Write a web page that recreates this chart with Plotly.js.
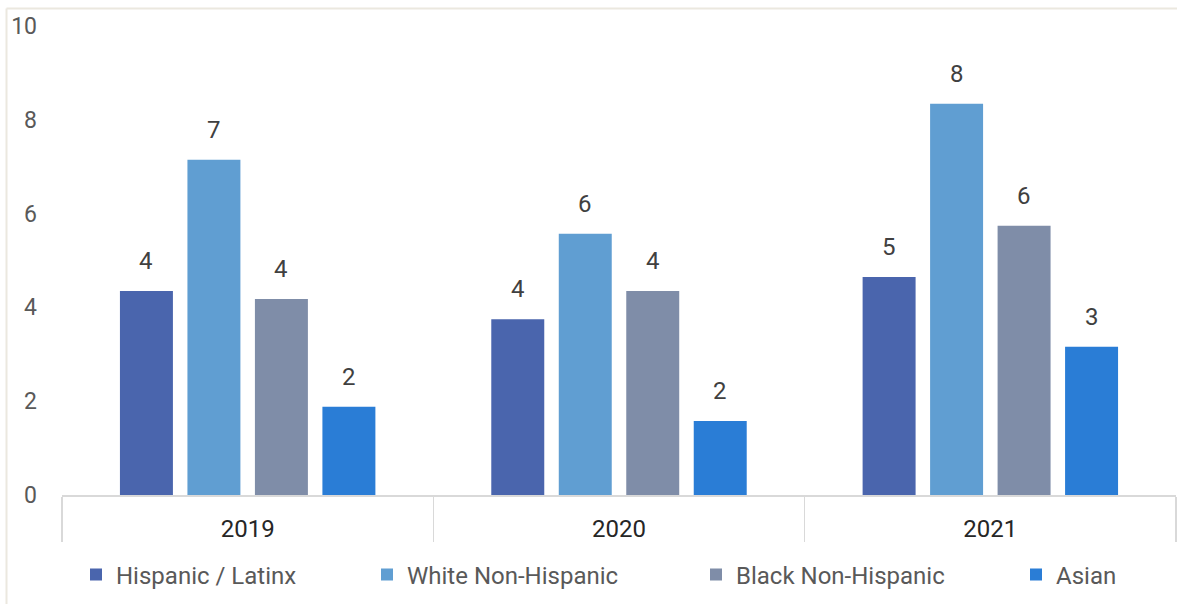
<!DOCTYPE html>
<html>
<head>
<meta charset="utf-8">
<script src="https://cdn.plot.ly/plotly-3.0.1.min.js"></script>
<style>
  html, body { margin: 0; padding: 0; background: #ffffff; }
  #chart { width: 1177px; height: 604px; }
</style>
</head>
<body>
<div id="chart"></div>
<script>
// Years on the category axis
const years = ['2019', '2020', '2021'];

// One series per group
const seriesNames = ['Hispanic / Latinx', 'White Non-Hispanic', 'Black Non-Hispanic', 'Asian'];
const hispanicLatinx = [4.35, 3.75, 4.65];
const whiteNonHispanic = [7.15, 5.57, 8.34];
const blackNonHispanic = [4.18, 4.35, 5.74];
const asian = [1.88, 1.58, 3.16];

const yTicks = [0, 2, 4, 6, 8, 10];

const seriesValues = [hispanicLatinx, whiteNonHispanic, blackNonHispanic, asian];
const seriesColors = ['#4a65ad', '#609ed2', '#7f8da8', '#2a7dd6'];
// Where each legend entry's text begins (container pixels)
const legendTextLeft = [116, 407, 736, 1056];

const W = 1177, H = 604;
const FONT = 'Roboto, "Noto Sans", sans-serif';
const BARGAP = 0.273;
const BARGROUPGAP = 0.215;

const traces = seriesNames.map((name, i) => ({
  type: 'bar',
  name: name,
  x: years,
  y: seriesValues[i],
  marker: { color: seriesColors[i], line: { width: 0 } },
  hoverinfo: 'skip',
  legend: i === 0 ? 'legend' : 'legend' + (i + 1)
}));

// Value labels above each bar: centred on the bar's slot within its year group
const slot = (1 - BARGAP) / seriesNames.length;
const annotations = [];
seriesValues.forEach((vals, i) => {
  vals.forEach((v, k) => {
    annotations.push({
      xref: 'x', yref: 'y',
      x: k + (i - (seriesNames.length - 1) / 2) * slot,
      y: v,
      text: v.toFixed(0),
      showarrow: false,
      xanchor: 'center', yanchor: 'middle',
      yshift: 30,
      font: { family: FONT, size: 24, color: '#404040' }
    });
  });
});

function legendAt(i) {
  return {
    orientation: 'h',
    xref: 'container', yref: 'container',
    x: (legendTextLeft[i] - 40) / W,
    y: 1 - 575 / H,
    xanchor: 'left', yanchor: 'middle',
    bgcolor: 'rgba(0,0,0,0)',
    borderwidth: 0,
    font: { family: FONT, size: 24, color: '#595959' }
  };
}

const layout = {
  width: W, height: H,
  margin: { l: 62, r: 1, t: 26, b: 109, pad: 0 },
  paper_bgcolor: '#ffffff',
  plot_bgcolor: '#ffffff',
  font: { family: FONT, color: '#404040' },
  barmode: 'group',
  bargap: BARGAP,
  bargroupgap: BARGROUPGAP,
  showlegend: true,
  legend: legendAt(0),
  legend2: legendAt(1),
  legend3: legendAt(2),
  legend4: legendAt(3),
  annotations: annotations,
  xaxis: {
    type: 'category',
    range: [-0.5, 2.5],
    showgrid: false,
    zeroline: false,
    showline: true,
    linecolor: '#d9d9d9',
    linewidth: 1.5,
    ticks: 'outside',
    tickson: 'boundaries',
    ticklen: 45,
    tickwidth: 1.5,
    tickcolor: '#d9d9d9',
    ticklabelstandoff: 12,
    tickfont: { family: FONT, size: 24, color: '#262626' },
    fixedrange: true
  },
  yaxis: {
    range: [0, 10],
    tickmode: 'array',
    tickvals: yTicks,
    ticktext: yTicks.map(String),
    showgrid: false,
    zeroline: false,
    showline: false,
    ticks: '',
    ticklabelstandoff: 24,
    tickfont: { family: FONT, size: 23, color: '#595959' },
    fixedrange: true
  },
  shapes: [
    // thin frame along the top and left edges of the panel
    { type: 'line', xref: 'paper', yref: 'paper',
      x0: (6.5 - 62) / 1114, x1: 1.01, y0: 1 + 17.5 / 469, y1: 1 + 17.5 / 469,
      line: { color: '#ebe8df', width: 2 } },
    { type: 'line', xref: 'paper', yref: 'paper',
      x0: (6.5 - 62) / 1114, x1: (6.5 - 62) / 1114, y0: 1 + 17.5 / 469, y1: -0.25,
      line: { color: '#ebe8df', width: 2 } }
  ]
};

Plotly.newPlot('chart', traces, layout, { displayModeBar: false, staticPlot: true });
</script>
</body>
</html>
